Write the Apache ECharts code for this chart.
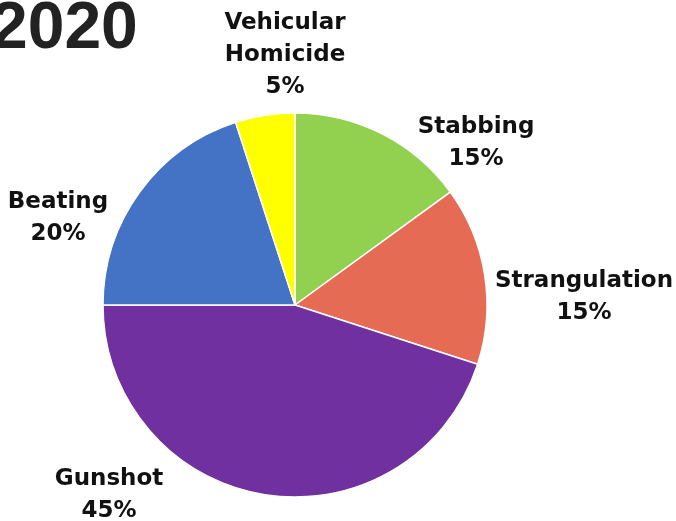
<!DOCTYPE html>
<html>
<head>
<meta charset="utf-8">
<script src="https://cdn.jsdelivr.net/npm/echarts@6/dist/echarts.min.js"></script>
<style>
  html, body { margin: 0; padding: 0; background: #fff; }
  #chart { width: 676px; height: 521px; }
</style>
</head>
<body>
<div id="chart"></div>
<script>
// data
var categories = ['Stabbing', 'Strangulation', 'Gunshot', 'Beating', 'Vehicular\nHomicide'];
var shares = [15, 15, 45, 20, 5];
var colors = ['#92d050', '#e56b55', '#7030a0', '#4472c4', '#ffff00'];
// where each label sits (centre of the text block)
var labelPos = [[476, 143], [584, 297], [109, 495], [58, 218], [285, 55]];

var myChart = echarts.init(document.getElementById('chart'));

myChart.setOption({
  animation: false,
  graphic: [{
    type: 'text',
    left: -9,
    top: -3,
    style: {
      text: '2020',
      fill: '#222',
      font: 'bold 66px "Liberation Sans"'
    }
  }],
  series: [{
    type: 'pie',
    center: [295, 305],
    radius: 192,
    startAngle: 90,
    clockwise: true,
    itemStyle: {
      borderColor: '#fff',
      borderWidth: 1.5
    },
    label: {
      show: true,
      position: 'outside',
      formatter: function (p) { return p.name + '\n' + p.value + '%'; },
      color: '#111',
      fontFamily: 'DejaVu Sans',
      fontWeight: 'bold',
      fontSize: 23,
      lineHeight: 32,
      align: 'center',
      overflow: 'none'
    },
    labelLine: { show: false },
    labelLayout: function (p) {
      var pos = labelPos[p.dataIndex];
      return { x: pos[0], y: pos[1], align: 'center', verticalAlign: 'middle' };
    },
    data: categories.map(function (c, i) {
      return { name: c, value: shares[i], itemStyle: { color: colors[i] } };
    })
  }]
});
</script>
</body>
</html>
